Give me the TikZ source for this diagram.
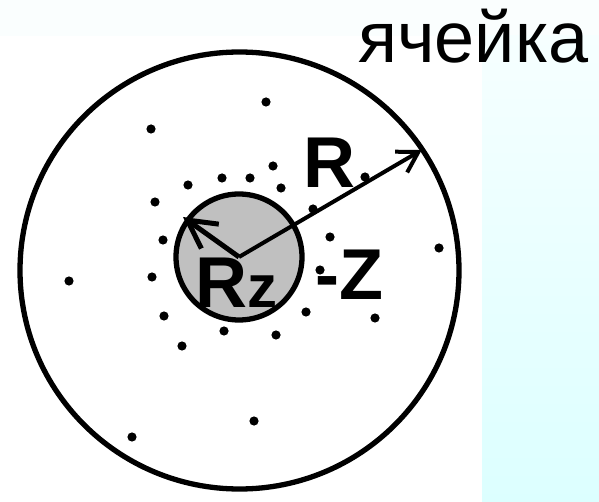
\documentclass[tikz,border=0pt]{standalone}
\usepackage{fontspec}
\setmainfont{Liberation Sans}
\usetikzlibrary{arrows.meta,shapes.geometric}
\definecolor{bandtint}{RGB}{250,254,254}
\definecolor{paneltop}{RGB}{246,255,255}
\definecolor{panelbot}{RGB}{220,255,255}
\definecolor{coregray}{RGB}{192,192,192}
\begin{document}
\begin{tikzpicture}[x=1pt,y=-1pt,
  ring/.style={draw=black,line width=5.3pt,inner sep=0pt},
  dot/.style={fill=black},
  big/.style={font=\fontsize{72}{80}\selectfont,inner sep=0pt},
  bigbold/.style={font=\fontsize{72}{80}\selectfont\bfseries,inner sep=0pt},
  radius arrow/.style={draw=black,line width=4pt,-{Straight Barb[length=20pt,width=24pt]}},
  core arrow/.style={draw=black,line width=5pt,-{Straight Barb[length=28pt,width=30pt]}}]
\useasboundingbox (0,0) rectangle (599,502);
% background
\fill[bandtint] (0,0) rectangle (599,36);
\shade[top color=paneltop,bottom color=panelbot] (482,36) rectangle (599,502);
% cell
\node[ring,ellipse,minimum width=439pt,minimum height=437pt] (cell) at (239.5,270.5) {};
\node[ring,circle,fill=coregray,minimum size=126pt] (core) at (239,257) {};
% particles
\foreach \px/\py in {151/129,266/102,188/185,222/178,250/178,273/166,281/188,
  155/202,163/240,152/277,69/281,164/316,224/331,182/346,276/335,306/312,
  375/318,330/237,320/270,439/248,365/177,313/209,254/421,132/437}
  \fill[dot] (\px,\py) circle[radius=4.6pt];
% radii
\coordinate (rtip) at (421.7,150);
\coordinate (rztip) at (183,217);
\draw[radius arrow] (core.center) -- (rtip);
\draw[core arrow] (core.center) -- (rztip);
% labels
\node[big,anchor=base west] (lbl) at (358,63) {ячейка};
\node[bigbold,anchor=base west] (rlbl) at (303,188) {R};
\node[bigbold,anchor=base west] (rzlbl) at (195,308) {R{\fontsize{60}{60}\selectfont z}};
\node[bigbold,anchor=base west] (zlbl) at (315,300) {-Z};
\end{tikzpicture}
\end{document}
